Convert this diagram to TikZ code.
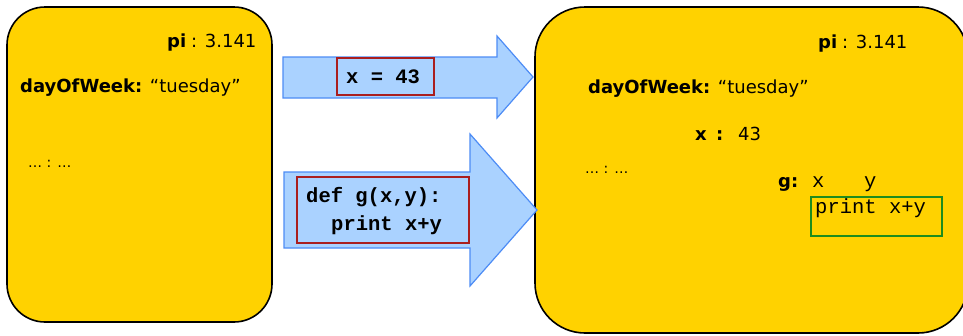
\documentclass[tikz,border=0pt]{standalone}
\usepackage{fontspec}
\setmainfont{DejaVu Sans}
\setmonofont{Liberation Mono}
\definecolor{memyellow}{RGB}{255,210,0}
\definecolor{arrowfill}{RGB}{170,210,255}
\definecolor{arrowblue}{RGB}{77,140,245}
\definecolor{codered}{RGB}{170,30,30}
\definecolor{codegreen}{RGB}{30,140,30}
\begin{document}
\begin{tikzpicture}[x=1pt,y=-1pt,
  mem/.style={draw=black, line width=1.6pt, fill=memyellow},
  blockarrow/.style={draw=arrowblue, line width=1.2pt, fill=arrowfill, line join=miter},
  codebox/.style={draw=codered, line width=1.2pt, inner sep=0pt},
  resbox/.style={draw=codegreen, line width=1.6pt, inner sep=0pt},
  txt/.style={anchor=base west, inner sep=0pt, font=\fontsize{18}{20}\selectfont},
  btxt/.style={txt, font=\fontsize{18}{20}\selectfont\bfseries},
  dots/.style={anchor=base west, inner sep=0pt, font=\fontsize{14}{16}\selectfont},
  code/.style={anchor=base west, inner sep=0pt, font=\fontsize{20.5}{24}\selectfont\ttfamily},
  bcode/.style={anchor=base west, inner sep=0pt, font=\fontsize{20.5}{24}\selectfont\ttfamily\bfseries}
]
\useasboundingbox (0,0) rectangle (963,335);

% memory boxes
\draw[mem, rounded corners=38pt] (7,7) rectangle (272,322);
\draw[mem, rounded corners=50pt] (535,7) rectangle (968,333);

% block arrows
\draw[blockarrow] (283,57) -- (497,57) -- (497,36) -- (533,77) -- (497,118) -- (497,98) -- (283,98) -- cycle;
\draw[blockarrow] (284,172) -- (470,172) -- (470,134) -- (537,210) -- (470,286) -- (470,248) -- (284,248) -- cycle;

% code boxes on arrows
\node[codebox, minimum width=97pt, minimum height=37pt] (assign) at (385.5,76.5) {};
\node[bcode] (assigntxt) at (346,83) {x = 43};
\node[codebox, minimum width=172pt, minimum height=66pt] (defbox) at (383,210) {};
\node[bcode] (defl1) at (306,202) {def g(x,y):};
\node[bcode] (defl2) at (331,230) {print x+y};

% left memory contents
\node[btxt] (lpi) at (167,47) {pi};
\node[txt] (lpival) at (191,47) {: 3.141};
\node[txt] (lday) at (20,92) {\textbf{dayOfWeek:} “tuesday”};
\node[dots] (ldots) at (28,167) {… : …};

% right memory contents
\node[btxt] (rpi) at (818,48) {pi};
\node[txt] (rpival) at (842,48) {: 3.141};
\node[txt] (rday) at (588,93) {\textbf{dayOfWeek:} “tuesday”};
\node[btxt] (rx) at (695,140) {x};
\node[btxt] (rxcolon) at (716,140) {:};
\node[txt] (rxval) at (738,140) {43};
\node[dots] (rdots) at (585,173) {… : …};
\node[btxt] (rg) at (778,187) {g:};
\node[code] (rgx) at (812,187) {x};
\node[code] (rgy) at (864,187) {y};
\node[resbox, minimum width=131pt, minimum height=39pt] (body) at (876.5,216.5) {};
\node[code] (bodytxt) at (815,213) {print x+y};
\end{tikzpicture}
\end{document}
